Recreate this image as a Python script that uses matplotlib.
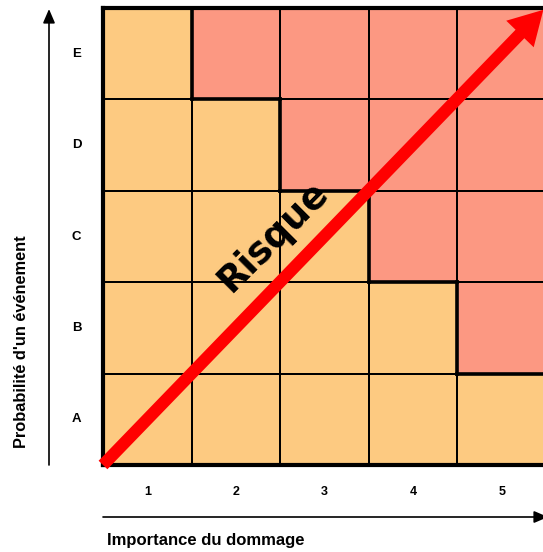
import numpy as np
import matplotlib.pyplot as plt
from matplotlib.colors import ListedColormap
from matplotlib.patches import FancyArrowPatch

# risk matrix data
prob_labels = ['A', 'B', 'C', 'D', 'E']
damage_labels = ['1', '2', '3', '4', '5']
# 0 = acceptable (orange), 1 = unacceptable (red); rows A..E, columns 1..5
risk_level = [
    [0, 0, 0, 0, 0],
    [0, 0, 0, 0, 1],
    [0, 0, 0, 1, 1],
    [0, 0, 1, 1, 1],
    [0, 1, 1, 1, 1],
]
risk_text = 'Risque'
xlabel = 'Importance du dommage'
ylabel = "Probabilité d'un événement"

W, H, DPI = 543, 552, 100
fig = plt.figure(figsize=(W / DPI, H / DPI), dpi=DPI)
fig.patch.set_facecolor('white')

# grid area in pixels
x0, y_top, cw, ch = 103, 8, 88.6, 91.4
ncol, nrow = len(damage_labels), len(prob_labels)
ax = fig.add_axes([x0 / W, 1 - (y_top + nrow * ch) / H,
                   ncol * cw / W, nrow * ch / H])

mat = np.array(risk_level)
cmap = ListedColormap(['#FDCA81', '#FC9882'])
ax.pcolormesh(np.arange(ncol + 1), np.arange(nrow + 1), mat, cmap=cmap,
              vmin=0, vmax=1, edgecolors='black', linewidth=1.1)

# thick boundary between levels
for r in range(nrow):
    for c in range(ncol):
        if c + 1 < ncol and mat[r, c] != mat[r, c + 1]:
            ax.plot([c + 1, c + 1], [r, r + 1], color='black', lw=2.6,
                    solid_capstyle='projecting')
        if r + 1 < nrow and mat[r, c] != mat[r + 1, c]:
            ax.plot([c, c + 1], [r + 1, r + 1], color='black', lw=2.6,
                    solid_capstyle='projecting')

ax.set_xlim(0, ncol)
ax.set_ylim(0, nrow)
ax.set_xticks([])
ax.set_yticks([])
for sp in ax.spines.values():
    sp.set_linewidth(3.0)

# big red arrow
arrow = FancyArrowPatch((0.0, 0.0), (4.97, 4.98),
                        arrowstyle='simple,head_length=1.1,head_width=1.25,tail_width=0.4',
                        mutation_scale=22, color='#FF0000', lw=0,
                        shrinkA=0, shrinkB=0, clip_on=False, zorder=5)
ax.add_patch(arrow)
ax.text(1.92, 2.5, risk_text, rotation=45, ha='center', va='center',
        fontsize=26.5, fontweight='bold', family='DejaVu Sans', zorder=6)

# category labels
for i, lab in enumerate(prob_labels):
    ax.text(-0.3, i + 0.5, lab, ha='center', va='center', fontsize=9.5,
            fontweight='bold', family='Liberation Sans')
for j, lab in enumerate(damage_labels):
    ax.text(j + 0.5, -0.29, lab, ha='center', va='center', fontsize=9,
            fontweight='bold', family='Liberation Sans')

# axis arrows (figure pixels)
def px(x, y):
    return (x / W, 1 - y / H)

fig.add_artist(FancyArrowPatch(px(49, 465), px(49, 9), transform=fig.transFigure,
                               arrowstyle='-|>,head_length=0.7,head_width=0.3',
                               mutation_scale=12, color='black', lw=1.2,
                               shrinkA=0, shrinkB=0))
fig.add_artist(FancyArrowPatch(px(103, 517), px(548, 517), transform=fig.transFigure,
                               arrowstyle='-|>,head_length=0.7,head_width=0.3',
                               mutation_scale=12, color='black', lw=1.2,
                               shrinkA=0, shrinkB=0))

fig.text(*px(107, 541), xlabel, ha='left', va='center', fontsize=12,
         fontweight='bold', family='Liberation Sans')
fig.text(*px(22, 342), ylabel, ha='center', va='center', rotation=90,
         fontsize=11.8, fontweight='bold', family='Liberation Sans')

fig.savefig('out.png', dpi=DPI)
